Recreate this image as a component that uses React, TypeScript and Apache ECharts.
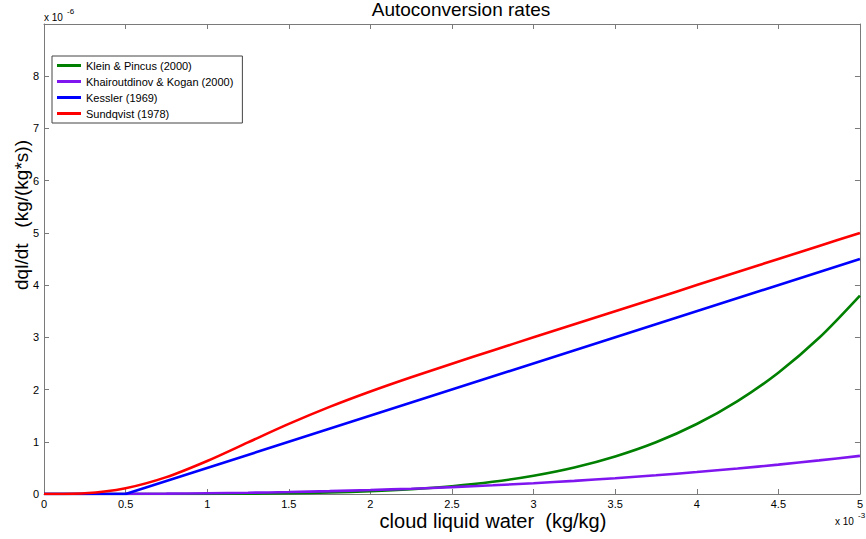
import React, { useEffect, useRef } from "react";
import * as echarts from "echarts";

const xValues = [0, 0.25, 0.5, 0.75, 1, 1.25, 1.5, 1.75, 2, 2.25, 2.5, 2.75, 3, 3.25, 3.5, 3.75, 4, 4.25, 4.5, 4.75, 5];
const kleinPincus = [0, 0, 0.0001, 0.0005, 0.0021, 0.0059, 0.0138, 0.0282, 0.0527, 0.0912, 0.149, 0.233, 0.35, 0.508, 0.719, 0.991, 1.34, 1.779, 2.323, 2.991, 3.8];
const khairoutdinovKogan = [0, 0.0005, 0.0025, 0.0067, 0.0137, 0.0238, 0.0373, 0.0546, 0.0759, 0.1016, 0.1318, 0.1667, 0.2067, 0.2519, 0.3025, 0.3587, 0.4208, 0.4887, 0.5627, 0.6431, 0.73];
const kesslerX = [0, 0.5, 5];
const kessler = [0, 0, 4.5];
const sundqvist = [0, 0.015, 0.111, 0.323, 0.632, 0.988, 1.342, 1.668, 1.963, 2.236, 2.495, 2.749, 3.0, 3.25, 3.5, 3.75, 4.0, 4.25, 4.5, 4.75, 5.0];
const seriesNames = ["Klein & Pincus (2000)", "Khairoutdinov & Kogan (2000)", "Kessler (1969)", "Sundqvist (1978)"];
const seriesColors = ["#008000", "#7f16f0", "#0000ff", "#ff0000"];

const FONT = "'Liberation Sans', Arial, Helvetica, sans-serif";
const AXIS_COLOR = "#7a7a7a";

function pairs(xs: number[], ys: number[]) {
  return xs.map((x, i) => [x, ys[i]]);
}

export default function App() {
  const ref = useRef<HTMLDivElement>(null);
  useEffect(() => {
    if (!ref.current) return;
    const chart = echarts.init(ref.current, undefined, { renderer: "svg" });
    const axisCommon = {
      type: "value" as const,
      splitLine: { show: false },
      axisLine: { show: true, onZero: false, lineStyle: { color: AXIS_COLOR, width: 1 } },
      axisTick: { show: true, inside: true, length: 5, lineStyle: { color: AXIS_COLOR } },
    };
    const lineSeries = (name: string, data: number[][], color: string, smooth: boolean) => ({
      name,
      type: "line" as const,
      data,
      smooth: smooth ? 0.3 : false,
      symbol: "none",
      showSymbol: false,
      lineStyle: { color, width: 2.6 },
      itemStyle: { color },
      xAxisIndex: 0,
      yAxisIndex: 0,
    });
    chart.setOption({
      animation: false,
      backgroundColor: "#ffffff",
      textStyle: { fontFamily: FONT },
      grid: { left: 44, right: 1, top: 24, bottom: 45, containLabel: false },
      xAxis: [
        {
          ...axisCommon,
          position: "bottom",
          min: 0,
          max: 5,
          interval: 0.5,
          axisLabel: { color: "#000", fontSize: 11, fontFamily: FONT, margin: 4 },
        },
        {
          ...axisCommon,
          position: "top",
          min: 0,
          max: 5,
          interval: 0.5,
          axisLabel: { show: false },
        },
      ],
      yAxis: [
        {
          ...axisCommon,
          position: "left",
          min: 0,
          max: 9,
          interval: 1,
          axisLabel: {
            color: "#000",
            fontSize: 11,
            fontFamily: FONT,
            margin: 5,
            formatter: (v: number) => (v >= 9 ? "" : String(v)),
          },
        },
        {
          ...axisCommon,
          position: "right",
          min: 0,
          max: 9,
          interval: 1,
          axisLabel: { show: false },
        },
      ],
      legend: {
        orient: "vertical",
        left: 52,
        top: 56,
        data: seriesNames,
        icon: "rect",
        backgroundColor: "#ffffff",
        borderColor: "#444",
        borderWidth: 1,
        borderRadius: 0,
        padding: [3, 9, 3, 5],
        itemWidth: 24,
        itemHeight: 3,
        itemGap: 3,
        textStyle: { color: "#000", fontSize: 11, lineHeight: 13, fontFamily: FONT },
      },
      series: [
        lineSeries(seriesNames[0], pairs(xValues, kleinPincus), seriesColors[0], true),
        lineSeries(seriesNames[1], pairs(xValues, khairoutdinovKogan), seriesColors[1], true),
        lineSeries(seriesNames[2], pairs(kesslerX, kessler), seriesColors[2], false),
        lineSeries(seriesNames[3], pairs(xValues, sundqvist), seriesColors[3], true),
      ],
      graphic: [
        {
          type: "text",
          x: 461,
          y: 9,
          style: { text: "Autoconversion rates", fill: "#000", font: `19px ${FONT}`, align: "center", verticalAlign: "middle" },
        },
        {
          type: "text",
          x: 493,
          y: 521,
          style: { text: "cloud liquid water  (kg/kg)", fill: "#000", font: `20px ${FONT}`, align: "center", verticalAlign: "middle" },
        },
        {
          type: "text",
          x: 21,
          y: 215,
          rotation: Math.PI / 2,
          style: { text: "dql/dt   (kg/(kg*s))", fill: "#000", font: `19px ${FONT}`, align: "center", verticalAlign: "middle" },
        },
        {
          type: "text",
          x: 44,
          y: 17,
          style: { text: "x 10", fill: "#000", font: `10px ${FONT}`, align: "left", verticalAlign: "middle" },
        },
        {
          type: "text",
          x: 67,
          y: 11,
          style: { text: "-6", fill: "#000", font: `8px ${FONT}`, align: "left", verticalAlign: "middle" },
        },
        {
          type: "text",
          x: 835,
          y: 521,
          style: { text: "x 10", fill: "#000", font: `10px ${FONT}`, align: "left", verticalAlign: "middle" },
        },
        {
          type: "text",
          x: 858,
          y: 515,
          style: { text: "-3", fill: "#000", font: `8px ${FONT}`, align: "left", verticalAlign: "middle" },
        },
      ],
    });
    return () => chart.dispose();
  }, []);
  return (
    <div
      ref={ref}
      style={{ position: "fixed", left: 0, top: 0, width: 866, height: 539, background: "#fff" }}
    />
  );
}
